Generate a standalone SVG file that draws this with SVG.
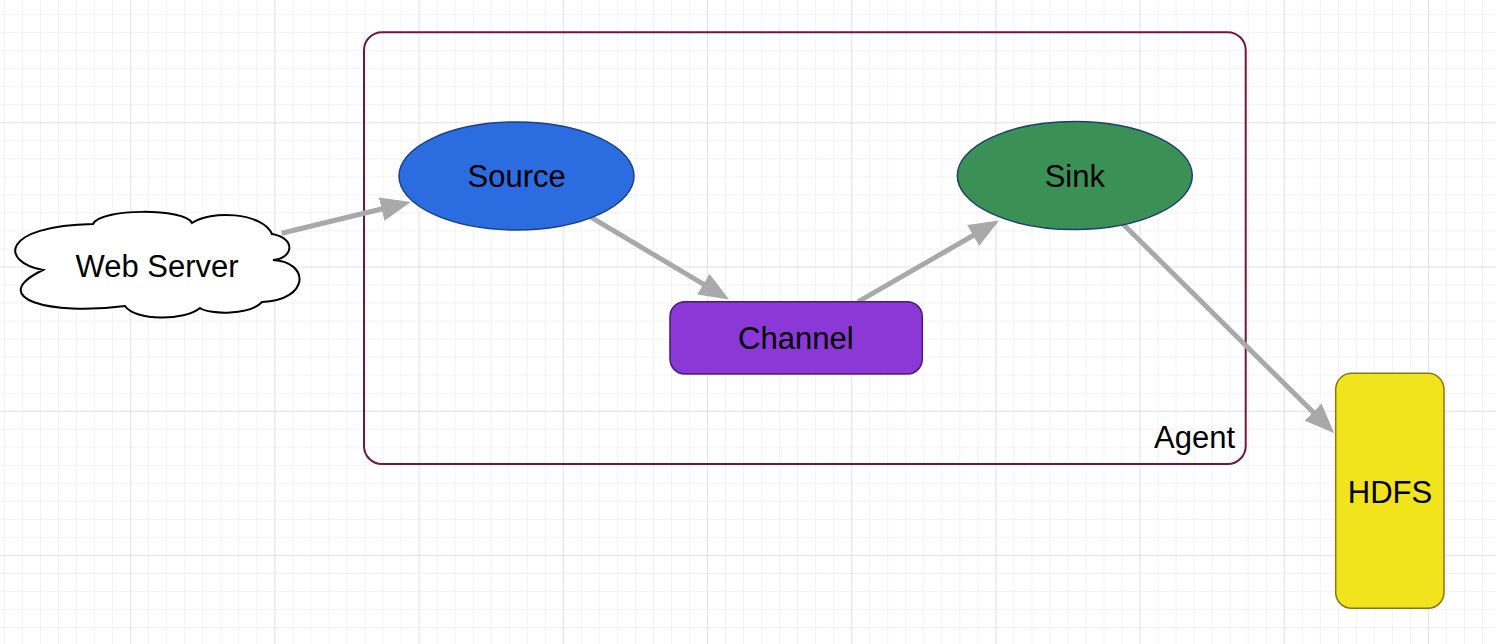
<svg xmlns="http://www.w3.org/2000/svg" width="1496" height="644" viewBox="0 0 1496 644">
<style>
.lbl{font-family:"Liberation Sans",Arial,Helvetica,sans-serif;font-size:31px;fill:#000;text-anchor:middle}
.conn{stroke:#a9a9a9;stroke-width:5;fill:none;marker-end:url(#ah)}
</style>
<defs>
<pattern id="minor" width="18.025" height="18.025" patternUnits="userSpaceOnUse" x="130.2" y="122.3">
<path d="M0 0V18.025M0 0H18.025" stroke="#e6e6e6" stroke-width="1" fill="none"/>
</pattern>
<pattern id="major" width="144.2" height="144.2" patternUnits="userSpaceOnUse" x="130.2" y="122.3">
<path d="M0 0V144.2M0 0H144.2" stroke="#d4d4d4" stroke-width="1" fill="none"/>
</pattern>
<marker id="ah" viewBox="0 0 30 24" refX="1" refY="12" markerWidth="30" markerHeight="24" markerUnits="userSpaceOnUse" orient="auto">
<path d="M0 0L30 12L0 24z" fill="#a9a9a9"/>
</marker>
</defs>
<rect width="1496" height="644" fill="#ffffff"/>
<rect width="1496" height="644" fill="url(#minor)"/>
<rect width="1496" height="644" fill="url(#major)"/>

<g id="agent">
<rect x="364" y="32.3" width="881.7" height="431.7" rx="18" fill="none" stroke="#6b1a3d" stroke-width="2"/>
<text class="lbl" x="1235" y="448.3" style="text-anchor:end">Agent</text>
</g>

<g id="connectors">
<path class="conn" d="M281.7 233.3L382.6 208.8"/>
<path class="conn" d="M590 216.7L704.2 284.7"/>
<path class="conn" d="M858.3 301.7L974 235"/>
<path class="conn" d="M1122.5 223.5L1313.7 412.8"/>
</g>

<g id="webserver">
<path d="M43 270C0 262 0 226 93 224C100 208 185 208 192 223C210 210 262 212 272 234C296 238 294 258 273 260C310 262 310 300 262 302C250 315 210 315 200 308C185 321 135 321 125 306C50 316 -15 298 43 270Z" fill="#ffffff" stroke="#000" stroke-width="2"/>
<text class="lbl" x="157" y="276.7">Web Server</text>
</g>

<g id="source">
<ellipse cx="516.5" cy="176" rx="117.5" ry="54" fill="#2b6ce0" stroke="#1b3f86" stroke-width="1.5"/>
<text class="lbl" x="516.7" y="186.7">Source</text>
</g>

<g id="sink">
<ellipse cx="1074.8" cy="175.5" rx="117.5" ry="54" fill="#3a9055" stroke="#1d3f72" stroke-width="1.5"/>
<text class="lbl" x="1074.8" y="187.3">Sink</text>
</g>

<g id="channel">
<rect x="670" y="301.7" width="252.3" height="72.3" rx="15" fill="#8b38d6" stroke="#4a1a78" stroke-width="1.5"/>
<text class="lbl" x="795.8" y="349.3">Channel</text>
</g>

<g id="hdfs">
<rect x="1335.7" y="373.3" width="108.3" height="235" rx="16" fill="#f1e31c" stroke="#857a10" stroke-width="1.5"/>
<text class="lbl" x="1390" y="502.7">HDFS</text>
</g>
</svg>
